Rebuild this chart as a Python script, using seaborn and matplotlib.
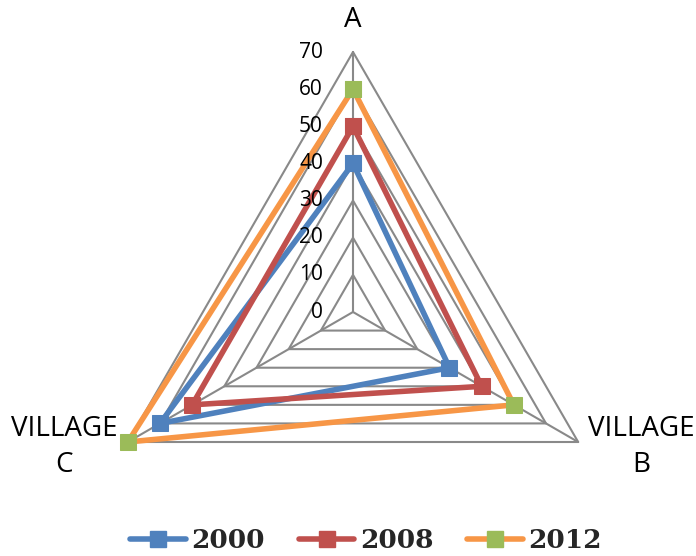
import numpy as np
import pandas as pd
import matplotlib
matplotlib.use("Agg")
import matplotlib.pyplot as plt
from matplotlib.transforms import offset_copy
import seaborn as sns

categories = ["A", "VILLAGE\nB", "VILLAGE\nC"]
years = ["2000", "2008", "2012"]
values_2000 = [40, 30, 60]
values_2008 = [50, 40, 50]
values_2012 = [60, 50, 70]
ring_levels = [0, 10, 20, 30, 40, 50, 60, 70]
tick_labels = ["0", "10", "20", "30", "40", "50", "60", "70"]

line_colors = {"2000": "#4F81BD", "2008": "#C0504D", "2012": "#F79646"}
marker_colors = {"2000": "#4F81BD", "2008": "#C0504D", "2012": "#9BBB59"}

sns.set_style("white")
plt.rcParams["font.family"] = ["Open Sans", "DejaVu Sans"]

W, H = 696, 556
fig = plt.figure(figsize=(W / 100, H / 100), dpi=100)
cx, cy, R = 353, H - 312, 260
ax = fig.add_axes([(cx - R) / W, (cy - R) / H, 2 * R / W, 2 * R / H], projection="polar")
ax.set_theta_offset(np.pi / 2)
ax.set_theta_direction(-1)
ax.set_ylim(0, 70)
ax.grid(False)
ax.set_xticks([])
ax.set_yticks([])
ax.spines["polar"].set_visible(False)
ax.patch.set_alpha(0)

n = len(categories)
thetas = [2 * np.pi * i / n for i in range(n)]
closed_t = thetas + [thetas[0]]

grid_col = "#898989"
for r in ring_levels[1:]:
    ax.plot(closed_t, [r] * (n + 1), color=grid_col, lw=1.5, zorder=1, clip_on=False)
for t in thetas:
    ax.plot([t, t], [0, ring_levels[-1]], color=grid_col, lw=1.5, zorder=1, clip_on=False)

series = {"2000": values_2000, "2008": values_2008, "2012": values_2012}
rows = []
for y in years:
    vals = series[y]
    for i, t in enumerate(closed_t):
        rows.append({"theta": t, "value": vals[i % n], "year": y, "order": i})
df = pd.DataFrame(rows)

for y in years:
    sub = df[df["year"] == y]
    sns.lineplot(data=sub, x="theta", y="value", sort=False, estimator=None, ax=ax,
                 color=line_colors[y], lw=4, marker="s", markersize=11,
                 markerfacecolor=marker_colors[y], markeredgecolor=marker_colors[y],
                 label=y, zorder=3, legend=False, clip_on=False)
ax.set_xlabel("")
ax.set_ylabel("")

# radial tick labels
tr = offset_copy(ax.transData, fig=fig, x=-30, y=0, units="dots")
for r, lab in zip(ring_levels, tick_labels):
    ax.text(0, r, lab, transform=tr, ha="right", va="center", fontsize=15, color="black")

# category labels
offsets = [(0, 32), (63, -5), (-64, -5)]
for t, lab, (dx, dy) in zip(thetas, categories, offsets):
    trc = offset_copy(ax.transData, fig=fig, x=dx, y=dy, units="dots")
    ax.text(t, 70, lab, transform=trc, ha="center", va="center", fontsize=20,
            color="black", linespacing=1.4)

handles = [plt.Line2D([], [], color=line_colors[y], lw=4, marker="s", markersize=11,
                      markerfacecolor=marker_colors[y], markeredgecolor=marker_colors[y],
                      solid_capstyle="round")
           for y in years]
fig.legend(handles, years, loc="center", bbox_to_anchor=(0.526, 1 - 541 / H), ncol=3,
           frameon=False, handlelength=2.1, handletextpad=0.2, columnspacing=1.3,
           prop={"family": "DejaVu Serif", "weight": "bold", "size": 19})

fig.savefig("out.png", dpi=100)
